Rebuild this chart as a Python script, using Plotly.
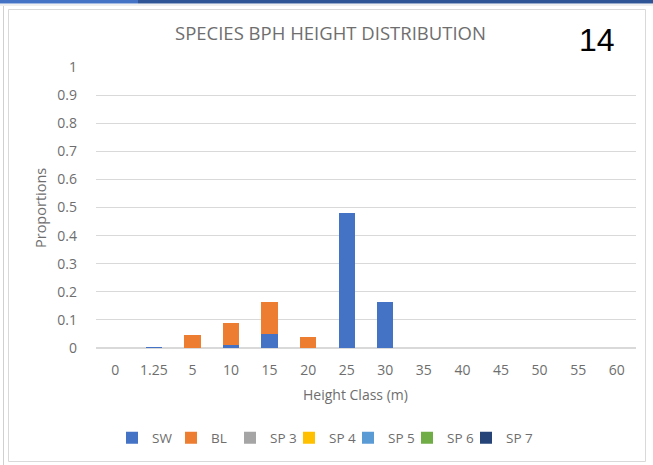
import plotly.graph_objects as go

categories = ["0", "1.25", "5", "10", "15", "20", "25", "30", "35", "40", "45", "50", "55", "60"]
series_names = ["SW", "BL", "SP 3", "SP 4", "SP 5", "SP 6", "SP 7"]
sw = [0, 0.003, 0, 0.01, 0.05, 0, 0.48, 0.165, 0, 0, 0, 0, 0, 0]
bl = [0, 0, 0.047, 0.08, 0.115, 0.04, 0, 0, 0, 0, 0, 0, 0, 0]
sp3 = [0] * 14
sp4 = [0] * 14
sp5 = [0] * 14
sp6 = [0] * 14
sp7 = [0] * 14
colors = ["#4472C4", "#ED7D31", "#A5A5A5", "#FFC000", "#5B9BD5", "#70AD47", "#264478"]
y_ticks = [0, 0.1, 0.2, 0.3, 0.4, 0.5, 0.6, 0.7, 0.8, 0.9, 1]
y_ticktext = ["0", "0.1", "0.2", "0.3", "0.4", "0.5", "0.6", "0.7", "0.8", "0.9", "1"]

W, H = 653, 465
L, R, T, B = 96, 636, 67, 348


def px(x):
    return (x - L) / (R - L)


def py(y):
    return (B - y) / (B - T)


fig = go.Figure()
for name, vals, c in zip(series_names, [sw, bl, sp3, sp4, sp5, sp6, sp7], colors):
    fig.add_trace(go.Bar(x=categories, y=vals, name=name, marker=dict(color=c, line=dict(width=0))))
# spacer legend entry so the last label is not clipped
fig.add_trace(go.Bar(x=categories, y=[None] * len(categories), name=" ",
                     marker=dict(color="rgba(0,0,0,0)", line=dict(width=0, color="rgba(0,0,0,0)")),
                     hoverinfo="skip"))

font = "Open Sans, Liberation Sans, sans-serif"
grey = "#6E6E6E"

fig.update_layout(
    width=W, height=H,
    barmode="stack", bargap=0.58,
    margin=dict(l=L, r=W - R, t=T, b=H - B, pad=0),
    paper_bgcolor="white", plot_bgcolor="white",
    font=dict(family=font, size=14, color=grey),
    showlegend=True,
    legend=dict(orientation="h", x=px(348), xanchor="center", y=py(438), yanchor="middle",
                font=dict(size=13.5, color=grey), itemwidth=30, tracegroupgap=0,
                entrywidth=14, entrywidthmode="pixels", traceorder="normal",
                bgcolor="rgba(0,0,0,0)"),
    xaxis=dict(type="category", showgrid=False, showline=False, zeroline=False,
               ticks="", ticklabelstandoff=12, tickfont=dict(size=14, color=grey)),
    yaxis=dict(range=[0, 1], tickvals=y_ticks, ticktext=y_ticktext, showgrid=True,
               gridcolor="#D9D9D9", gridwidth=1, zeroline=True, zerolinecolor="#D9D9D9",
               showline=False, ticks="", ticklabelstandoff=18, tickfont=dict(size=14, color=grey)),
)

annotations = [
    dict(text="SPECIES BPH HEIGHT DISTRIBUTION", x=px(330), y=py(32), xref="paper", yref="paper",
         showarrow=False, font=dict(size=18.5, color=grey, family=font), xanchor="center", yanchor="middle"),
    dict(text="14", x=px(597), y=py(40), xref="paper", yref="paper",
         showarrow=False, font=dict(size=32, color="black", family="Liberation Sans, sans-serif"),
         xanchor="center", yanchor="middle"),
    dict(text="Height Class (m)", x=px(355), y=py(394), xref="paper", yref="paper",
         showarrow=False, font=dict(size=14, color=grey, family=font), xanchor="center", yanchor="middle"),
    dict(text="Proportions", x=px(40), y=py(208), xref="paper", yref="paper", textangle=-90,
         showarrow=False, font=dict(size=14.5, color=grey, family=font), xanchor="center", yanchor="middle"),
]
fig.update_layout(annotations=annotations)

shapes = [
    dict(type="rect", xref="paper", yref="paper", x0=px(0), x1=px(138), y0=py(0), y1=py(3.5),
         fillcolor="#4472C4", line=dict(width=0), layer="above"),
    dict(type="rect", xref="paper", yref="paper", x0=px(138), x1=px(653), y0=py(0), y1=py(3.5),
         fillcolor="#2F5597", line=dict(width=0), layer="above"),
    dict(type="rect", xref="paper", yref="paper", x0=px(8.5), x1=px(645.5), y0=py(9.5), y1=py(461.5),
         fillcolor="rgba(0,0,0,0)", line=dict(width=1, color="#D9D9D9"), layer="below"),
    dict(type="line", xref="paper", yref="paper", x0=px(3.5), x1=px(3.5), y0=py(6), y1=py(465),
         line=dict(width=1, color="#D0D0D0")),
    dict(type="line", xref="paper", yref="paper", x0=px(0), x1=px(653), y0=py(5), y1=py(5),
         line=dict(width=2, color="#EFEFEF")),
]
fig.update_layout(shapes=shapes)

fig.write_html("out.html")
